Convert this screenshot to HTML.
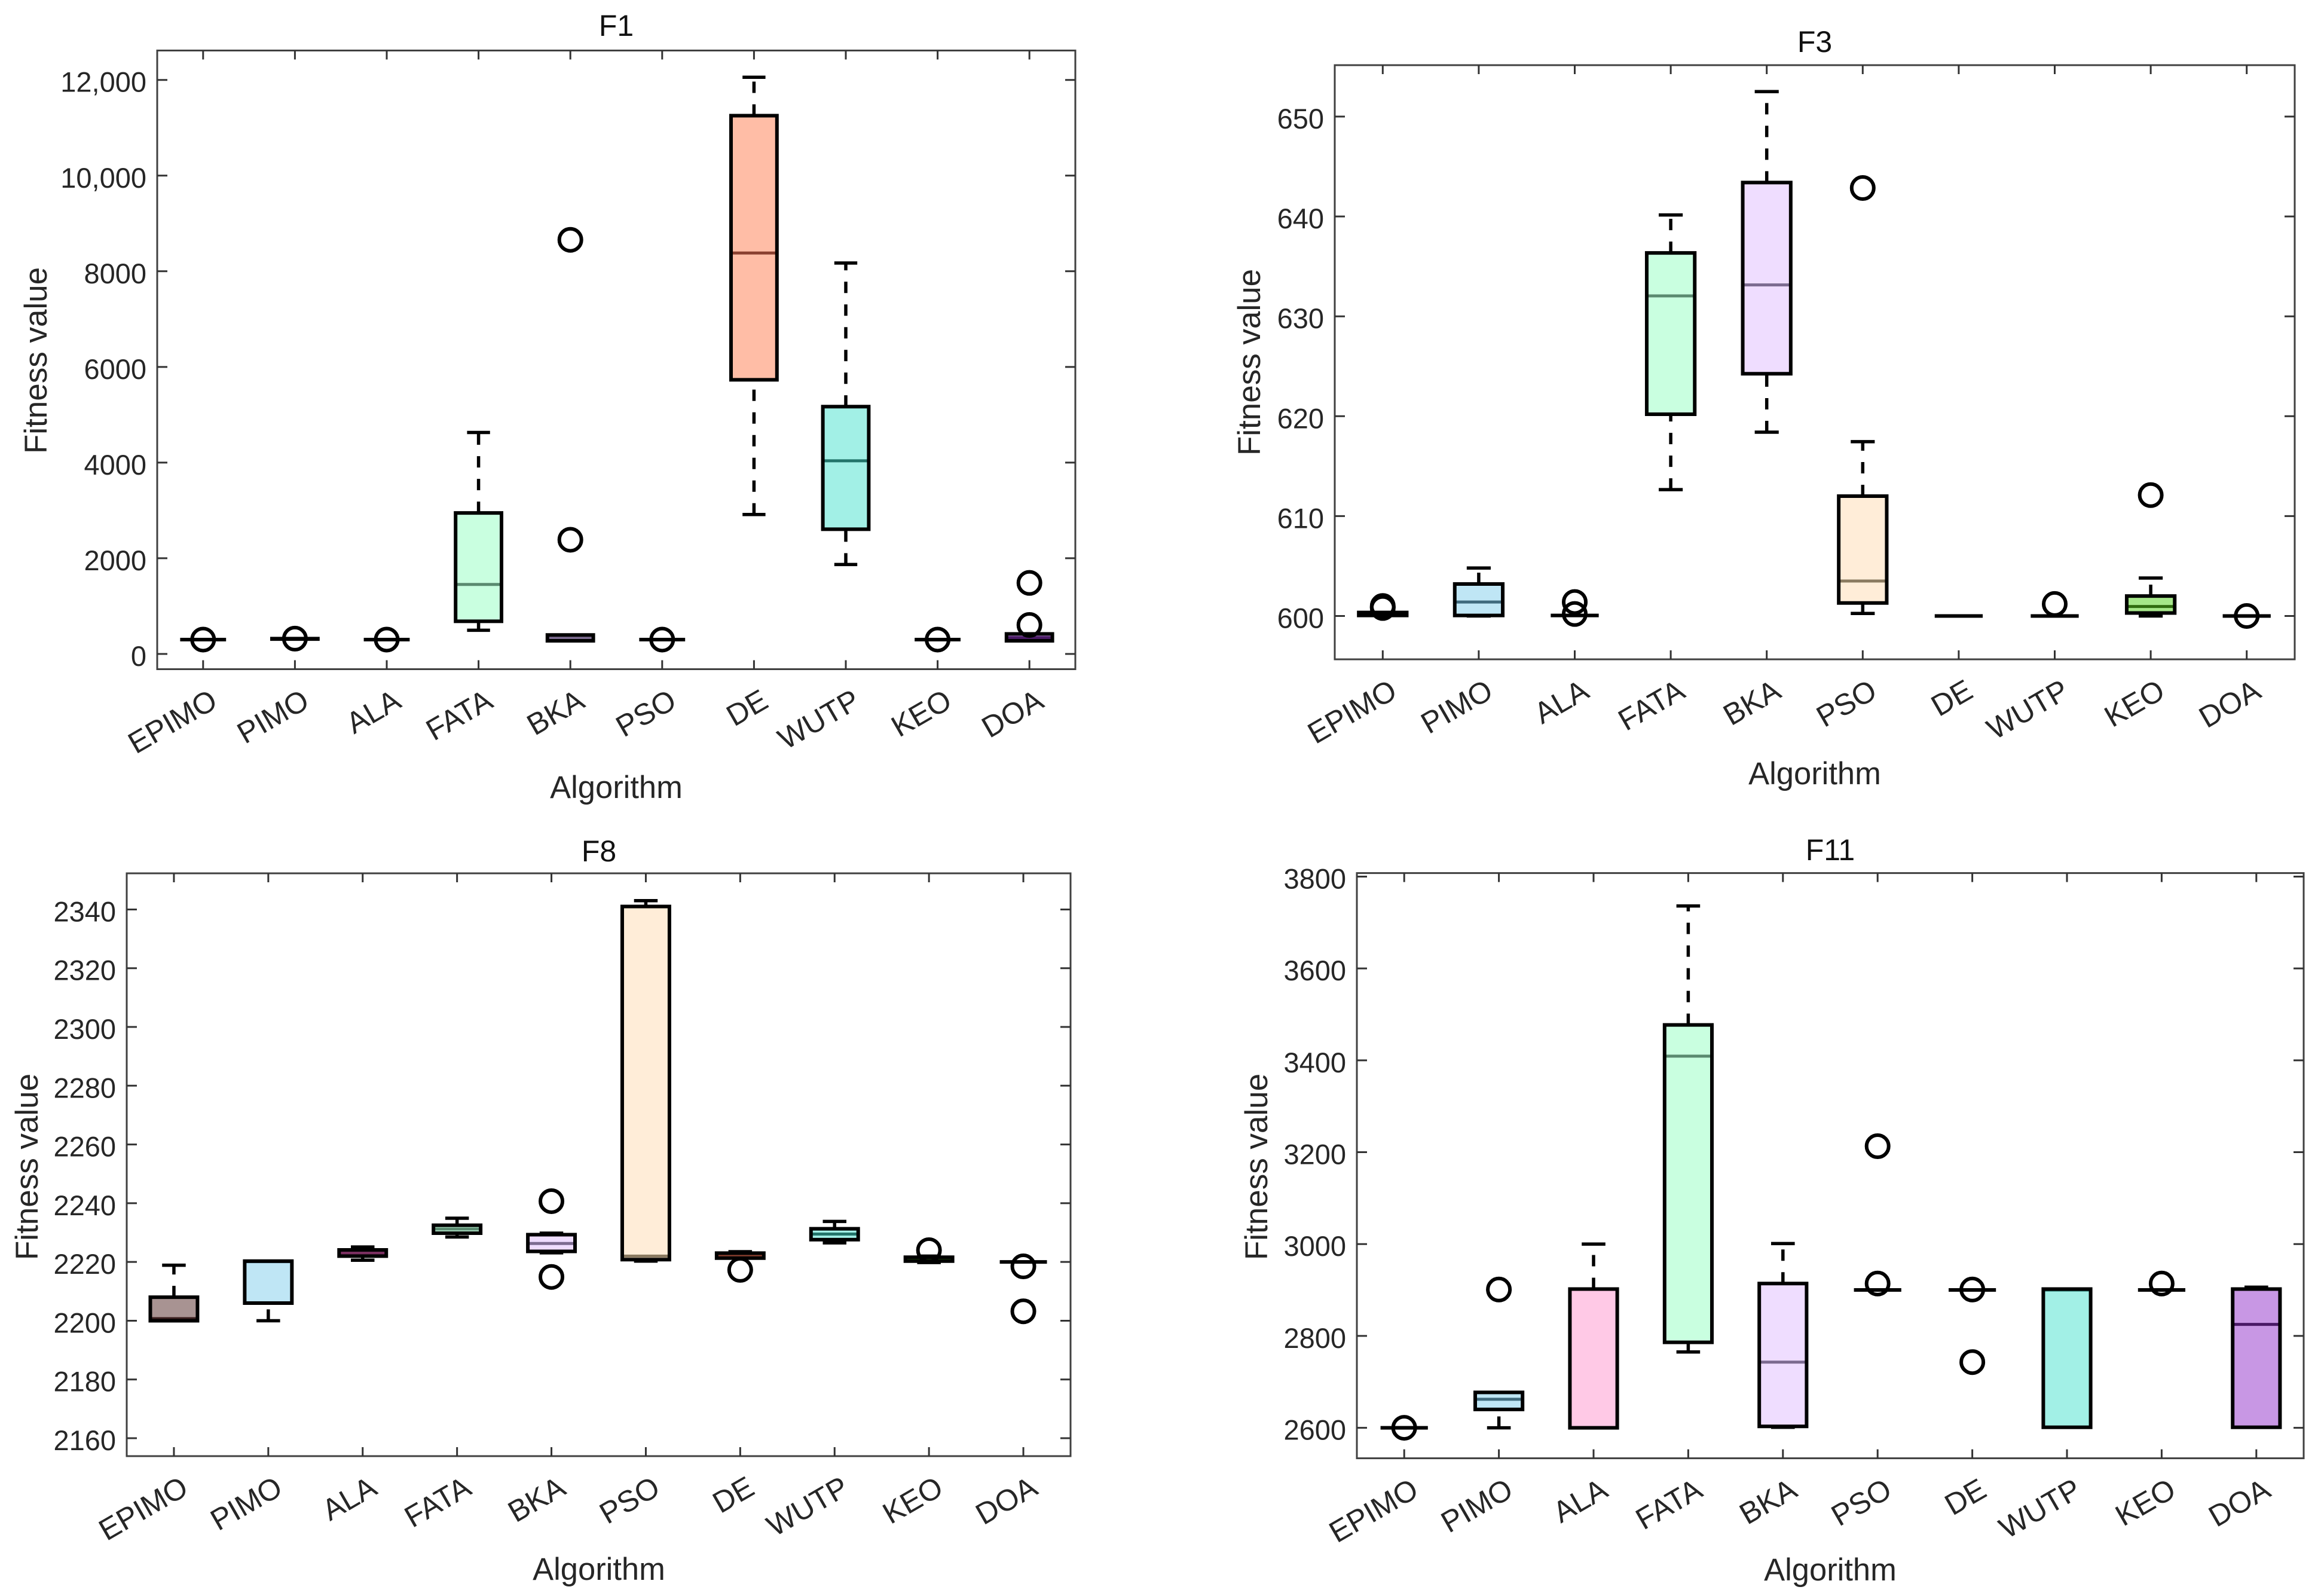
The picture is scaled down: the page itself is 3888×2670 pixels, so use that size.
<!DOCTYPE html>
<html lang="en">
<head>
<meta charset="utf-8">
<title>Fitness value box plots</title>
<style>
html,body{margin:0;padding:0;background:#fff;}
svg{display:block;}
text{font-family:"Liberation Sans",Arial,sans-serif;fill:#262626;}
</style>
</head>
<body>
<svg id="figure" xmlns="http://www.w3.org/2000/svg" width="3888" height="2670" viewBox="0 0 3888 2670"></svg>
<script>
const categories = ['EPIMO','PIMO','ALA','FATA','BKA','PSO','DE','WUTP','KEO','DOA'];

const f1Ticks = [0,2000,4000,6000,8000,10000,12000];
const f1TickLabels = ['0','2000','4000','6000','8000','10,000','12,000'];
const f1High = [300,320,300,4630,396,300,12056,8173,300,418];
const f1Q3 = [300,320,300,2948,396,300,11253,5170,300,418];
const f1Median = [300,320,300,1452,340,300,8382,4037,300,340];
const f1Q1 = [300,310,300,682,275,300,5731,2607,300,275];
const f1Low = [300,310,300,495,275,300,2915,1870,300,275];
const f1Outliers = [[300],[320],[300],[],[8657,2387],[300],[],[],[300],[1485,605]];

const f3Ticks = [600,610,620,630,640,650];
const f3TickLabels = ['600','610','620','630','640','650'];
const f3High = [600.35,604.8,600.05,640.15,652.5,617.45,600,600,603.8,600];
const f3Q3 = [600.35,603.2,600.05,636.35,643.4,612,600,600,602,600];
const f3Median = [600.2,601.4,600.05,632.05,633.15,603.5,600,600,600.95,600];
const f3Q1 = [600.05,600.05,600.05,620.2,624.25,601.3,600,600,600.3,600];
const f3Low = [600.05,600,600.05,612.65,618.4,600.25,600,600,600,600];
const f3Outliers = [[601,600.9,600.8],[],[601.4,600.2],[],[],[642.85],[],[601.2],[612.1],[600]];

const f8Ticks = [2160,2180,2200,2220,2240,2260,2280,2300,2320,2340];
const f8TickLabels = ['2160','2180','2200','2220','2240','2260','2280','2300','2320','2340'];
const f8High = [2218.9,2220.3,2225.1,2234.9,2229.8,2343,2223.5,2233.8,2222,2220];
const f8Q3 = [2208,2220.3,2224.1,2232.5,2229.3,2341,2223,2231.3,2221.6,2220];
const f8Median = [2200.7,2220.1,2223,2231.2,2226.3,2222,2222,2229.5,2221,2220];
const f8Q1 = [2200,2206,2222,2229.8,2223.6,2220.8,2221.3,2227.6,2220.3,2220];
const f8Low = [2200,2200,2220.6,2228.5,2223.1,2220.3,2221.3,2226.5,2219.8,2220];
const f8Outliers = [[],[],[],[],[2240.7,2214.9],[],[2217.3],[],[2224],[2218.5,2203.2]];

const f11Ticks = [2600,2800,3000,3200,3400,3600,3800];
const f11TickLabels = ['2600','2800','3000','3200','3400','3600','3800'];
const f11High = [2600,2677,3000,3736,3001,2900,2900,2902,2900,2906];
const f11Q3 = [2600,2677,2902,3477,2914,2900,2900,2902,2900,2902];
const f11Median = [2600,2662,2600,3409,2743,2900,2900,2900,2900,2825];
const f11Q1 = [2600,2640,2600,2786,2603,2900,2900,2601,2900,2601];
const f11Low = [2600,2600,2600,2765,2601,2900,2900,2601,2900,2601];
const f11Outliers = [[2600],[2901],[],[],[],[3213,2914],[2901,2743],[],[2914],[]];

const boxFills = ['#A89392','#BFE6F5','#FFC9E6','#C9FFE0','#EFDDFF','#FFEDD8','#FFBDA6','#A2F0E6','#A5E68A','#C897E4'];
const medianColors = ['#3c2020','#3f6a7d','#7a2f60','#5a8a70','#7c6b90','#8a7a60','#8a4030','#23756b','#2f6b10','#4a1a66'];

const svg = document.getElementById('figure');
const NS = 'http://www.w3.org/2000/svg';

function mk(parent, tag, attrs) {
  const el = document.createElementNS(NS, tag);
  for (const k in attrs) el.setAttribute(k, attrs[k]);
  parent.appendChild(el);
  return el;
}

function drawPanel(p) {
  const slug = p.title.toLowerCase();
  const g = mk(svg, 'g', {});
  
  

  const xAxis = i => p.left + (i + 0.5) / categories.length * (p.right - p.left);
  const yAxis = v => p.bottom - (v - p.yMin) / (p.yMax - p.yMin) * (p.bottom - p.top);
  const boxW = (p.right - p.left) / categories.length * 0.5;
  const capW = boxW / 2;

  const frame = mk(g, 'rect', {x:p.left, y:p.top, width:p.right-p.left, height:p.bottom-p.top, fill:'#fff', stroke:'#404040', 'stroke-width':3});
  
  

  p.ticks.forEach((v, i) => {
    const y = yAxis(v);
    const t1 = mk(g, 'line', {x1:p.left, x2:p.left+17, y1:y, y2:y, stroke:'#333', 'stroke-width':3});
    
    
    const t2 = mk(g, 'line', {x1:p.right-17, x2:p.right, y1:y, y2:y, stroke:'#333', 'stroke-width':3});
    
    
    const lab = mk(g, 'text', {x:p.left-18, y:y+20, 'text-anchor':'end', 'font-size':47});
    lab.textContent = p.tickLabels[i];
    
    
  });

  categories.forEach((c, i) => {
    const x = xAxis(i);
    const t1 = mk(g, 'line', {x1:x, x2:x, y1:p.bottom-15, y2:p.bottom, stroke:'#333', 'stroke-width':3});
    
    
    const t2 = mk(g, 'line', {x1:x, x2:x, y1:p.top, y2:p.top+15, stroke:'#333', 'stroke-width':3});
    
    
    const lab = mk(g, 'text', {transform:'translate(' + (x+27) + ',' + (p.bottom+62) + ') rotate(-30)', 'text-anchor':'end', 'font-size':50});
    lab.textContent = c;
    
    
  });

  const title = mk(g, 'text', {x:p.titleX, y:p.titleY, 'text-anchor':'middle', 'font-size':50, style:'fill:#111'});
  title.textContent = p.title;
  
  

  const xl = mk(g, 'text', {x:p.titleX, y:p.xLabelY, 'text-anchor':'middle', 'font-size':52.5});
  xl.textContent = 'Algorithm';
  
  

  const yl = mk(g, 'text', {transform:'translate(' + p.yLabelX + ',' + p.yLabelY + ') rotate(-90)', 'text-anchor':'middle', 'font-size':53});
  yl.textContent = 'Fitness value';
  
  

  categories.forEach((c, i) => {
    const x = xAxis(i);
    const name = c.toLowerCase();
    const item = mk(g, 'g', {});
    
    

    const yHigh = yAxis(p.high[i]), yQ3 = yAxis(p.q3[i]), yMed = yAxis(p.median[i]), yQ1 = yAxis(p.q1[i]), yLow = yAxis(p.low[i]);

    if (yHigh < yQ3 - 0.5) {
      const w = mk(item, 'line', {x1:x, x2:x, y1:yQ3, y2:yHigh, stroke:'#000', 'stroke-width':5.5, 'stroke-dasharray':'19 19'});
      
      
    }
    if (yLow > yQ1 + 0.5) {
      const w = mk(item, 'line', {x1:x, x2:x, y1:yLow, y2:yQ1, stroke:'#000', 'stroke-width':5.5, 'stroke-dasharray':'19 19'});
      
      
    }
    const capH = mk(item, 'line', {x1:x-capW/2, x2:x+capW/2, y1:yHigh, y2:yHigh, stroke:'#000', 'stroke-width':5.5});
    
    
    const capL = mk(item, 'line', {x1:x-capW/2, x2:x+capW/2, y1:yLow, y2:yLow, stroke:'#000', 'stroke-width':5.5});
    
    

    const boxD = 'M' + (x-boxW/2) + ' ' + yQ3 + 'H' + (x+boxW/2) + 'V' + yQ1 + 'H' + (x-boxW/2) + 'Z';
    const fill = mk(item, 'path', {d:boxD, fill:boxFills[i], stroke:'none'});
    
    

    const med = mk(item, 'line', {x1:x-boxW/2+2.5, x2:x+boxW/2-2.5, y1:yMed, y2:yMed, stroke:medianColors[i], 'stroke-width':5});
    
    

    const outline = mk(item, 'path', {d:boxD, fill:'none', stroke:'#000', 'stroke-width':6, 'stroke-linejoin':'miter'});
    
    

    p.outliers[i].forEach(v => {
      const o = mk(item, 'circle', {cx:x, cy:yAxis(v), r:18.5, fill:'none', stroke:'#000', 'stroke-width':6});
      
      
    });
  });
}

drawPanel({title:'F1', left:263, right:1799, top:84.5, bottom:1119.5, yMin:-319, yMax:12615,
  titleX:1031, titleY:60, xLabelY:1335, yLabelX:78, yLabelY:603,
  ticks:f1Ticks, tickLabels:f1TickLabels, high:f1High, q3:f1Q3, median:f1Median, q1:f1Q1, low:f1Low, outliers:f1Outliers});
drawPanel({title:'F3', left:2233, right:3839, top:109, bottom:1103, yMin:595.66, yMax:655.15,
  titleX:3036, titleY:87, xLabelY:1312, yLabelX:2108, yLabelY:606,
  ticks:f3Ticks, tickLabels:f3TickLabels, high:f3High, q3:f3Q3, median:f3Median, q1:f3Q1, low:f3Low, outliers:f3Outliers});
drawPanel({title:'F8', left:212, right:1791, top:1461, bottom:2436, yMin:2153.9, yMax:2352.3,
  titleX:1002, titleY:1441, xLabelY:2643, yLabelX:63, yLabelY:1952,
  ticks:f8Ticks, tickLabels:f8TickLabels, high:f8High, q3:f8Q3, median:f8Median, q1:f8Q1, low:f8Low, outliers:f8Outliers});
drawPanel({title:'F11', left:2270, right:3854, top:1460.6, bottom:2439.6, yMin:2533.6, yMax:3807.6,
  titleX:3062, titleY:1439, xLabelY:2644, yLabelX:2120, yLabelY:1952,
  ticks:f11Ticks, tickLabels:f11TickLabels, high:f11High, q3:f11Q3, median:f11Median, q1:f11Q1, low:f11Low, outliers:f11Outliers});
</script>
</body>
</html>
